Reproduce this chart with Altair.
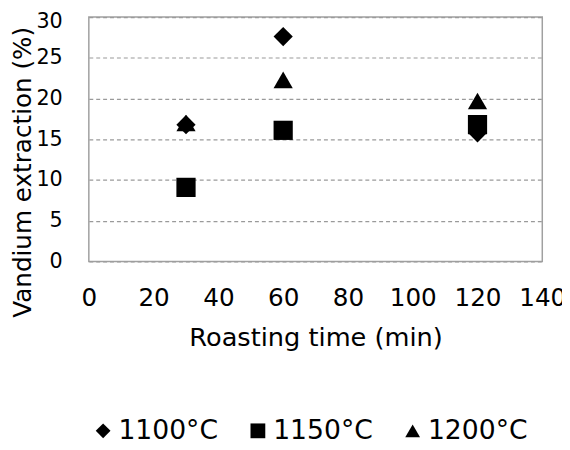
import altair as alt
import pandas as pd

times = [30, 60, 120]
series = ["1100°C", "1150°C", "1200°C"]
v1100 = [16.8, 27.6, 15.8]
v1150 = [9.1, 16.1, 16.8]
v1200 = [17.0, 22.3, 19.7]
x_ticks = [0, 20, 40, 60, 80, 100, 120, 140]
y_ticks = [0, 5, 10, 15, 20, 25, 30]

rows = []
for s, vals in zip(series, [v1100, v1150, v1200]):
    for t, v in zip(times, vals):
        rows.append({"time": t, "value": v, "series": s})
df = pd.DataFrame(rows)

font = "DejaVu Sans"

chart = alt.Chart(df).mark_point(filled=True, color="black", opacity=1, size=380).encode(
    x=alt.X(
        "time:Q",
        scale=alt.Scale(domain=[0, 140], nice=False),
        axis=alt.Axis(
            values=x_ticks, title="Roasting time (min)", grid=False, ticks=False,
            domain=False, labelFontSize=25, labelPadding=25, titleFontSize=26,
            titlePadding=14, labelFont=font, titleFont=font, labelColor="black",
            titleColor="black", titleFontWeight="normal", labelFlush=False,
        ),
    ),
    y=alt.Y(
        "value:Q",
        scale=alt.Scale(domain=[0, 30], nice=False),
        axis=alt.Axis(
            values=y_ticks, title="Vandium extraction (%)", grid=True,
            gridDash=[4, 3], gridColor="#9a9a9a", gridWidth=1.2, ticks=False,
            domain=False, labelFontSize=21, labelPadding=27,
            labelOffset={"condition": {"test": "datum.value == 30", "value": 5}, "value": 0},
            titleFontSize=25, titleX=-59, titleY=157, titleAngle=270,
            titleBaseline="alphabetic", titleAlign="center", labelFont=font,
            titleFont=font, labelColor="black", titleColor="black",
            titleFontWeight="normal",
        ),
    ),
    shape=alt.Shape(
        "series:N",
        scale=alt.Scale(domain=series, range=["diamond", "square", "triangle-up"]),
        legend=alt.Legend(
            title=None, orient="none", direction="horizontal", legendX=1,
            legendY=406, symbolSize=225, symbolFillColor="black",
            symbolStrokeWidth=0, labelFontSize=27, labelFont=font,
            labelColor="black", labelOffset=2, columnPadding=26,
        ),
    ),
).properties(
    width=460,
    height=248,
    padding={"left": 82, "top": 6, "right": 20, "bottom": 188},
    autosize=alt.AutoSizeParams(type="none"),
).configure_view(stroke="#a0a0a0", strokeWidth=1.5)

chart.save("out.html", embed_options={"renderer": "svg", "actions": False})
